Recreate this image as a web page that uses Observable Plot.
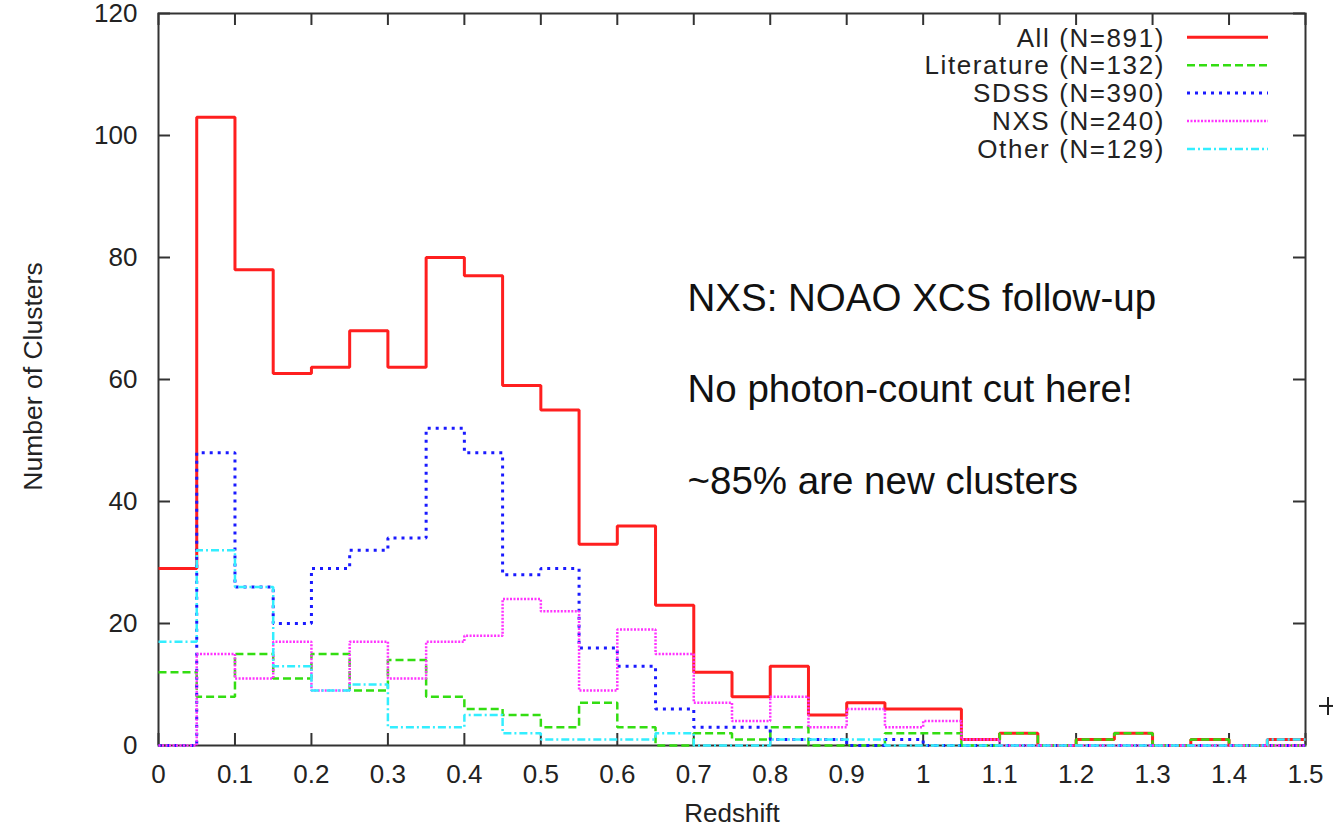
<!DOCTYPE html>
<html><head><meta charset="utf-8">
<script src="https://cdn.jsdelivr.net/npm/d3@7"></script>
<script src="https://cdn.jsdelivr.net/npm/@observablehq/plot@0.6"></script>
<style>html,body{margin:0;padding:0;background:#fff;}</style>
</head><body><div id="chart"></div>
<script>
// ---- data ----
const redshiftBins = [0,0.05,0.1,0.15,0.2,0.25,0.3,0.35,0.4,0.45,0.5,0.55,0.6,0.65,0.7,0.75,0.8,0.85,0.9,0.95,1.0,1.05,1.1,1.15,1.2,1.25,1.3,1.35,1.4,1.45];
const binWidth = 0.05;
const countsAll        = [29,103,78,61,62,68,62,80,77,59,55,33,36,23,12,8,13,5,7,6,6,1,2,0,1,2,0,1,0,1];
const countsLiterature = [12,8,15,11,15,9,14,8,6,5,3,7,3,0,2,1,3,0,0,2,2,0,2,0,1,2,0,1,0,0];
const countsSDSS       = [0,48,26,20,29,32,34,52,48,28,29,16,13,6,3,3,1,1,0,1,0,0,0,0,0,0,0,0,0,0];
const countsNXS        = [0,15,11,17,9,17,11,17,18,24,22,9,19,15,7,4,8,3,6,3,4,1,0,0,0,0,0,0,0,0];
const countsOther      = [17,32,26,13,9,10,3,3,5,2,1,1,1,2,0,0,1,1,1,0,0,0,0,0,0,0,0,0,0,1];
const seriesNames  = ["All","Literature","SDSS","NXS","Other"];
const seriesTotals = [891,132,390,240,129];
const seriesValues = [countsAll,countsLiterature,countsSDSS,countsNXS,countsOther];

const xTicks = [0,0.1,0.2,0.3,0.4,0.5,0.6,0.7,0.8,0.9,1,1.1,1.2,1.3,1.4,1.5];
const xTickLabels = ["0","0.1","0.2","0.3","0.4","0.5","0.6","0.7","0.8","0.9","1","1.1","1.2","1.3","1.4","1.5"];
const yTicks = [0,20,40,60,80,100,120];
const yTickLabels = ["0","20","40","60","80","100","120"];
const xLabel = "Redshift";
const yLabel = "Number of Clusters";
const annotationLines = ["NXS: NOAO XCS follow-up","No photon-count cut here!","~85% are new clusters"];

// ---- styles ----
const seriesStyles = [
  {stroke:"#ff1f1f", strokeWidth:3,   dash:null},
  {stroke:"#33dd11", strokeWidth:2.5, dash:"8,4"},
  {stroke:"#1a1aff", strokeWidth:3,   dash:"3,5"},
  {stroke:"#ff33ff", strokeWidth:2.5, dash:"2,1.5"},
  {stroke:"#33eeff", strokeWidth:2.5, dash:"8,3,2,3"}
];
const FONT = "'Liberation Sans', Arial, Helvetica, sans-serif";
const INK = "#222";
const TICKLEN = 12;

// tidy rows for step lines
function seriesRows(k) {
  const v = seriesValues[k];
  const rows = redshiftBins.map((b, i) => ({x: b, y: v[i]}));
  rows.push({x: redshiftBins[redshiftBins.length - 1] + binWidth, y: v[v.length - 1]});
  return rows;
}

const W = 1337, H = 829;
const mL = 158, mR = 32, mT = 13, mB = 84;
const plotW = W - mL - mR, plotH = H - mT - mB;

const lineMarks = seriesNames.map((name, k) => Plot.line(seriesRows(k), {
  x: "x", y: "y", curve: "step-after",
  stroke: seriesStyles[k].stroke, strokeWidth: seriesStyles[k].strokeWidth,
  strokeDasharray: seriesStyles[k].dash || undefined, strokeLinejoin: "miter", strokeLinecap: "butt"
}));

function legendMark(index, scales, values, dimensions) {
  const right = dimensions.width - dimensions.marginRight;
  const g = d3.create("svg:g").attr("font-family", FONT).attr("font-size", 26).attr("fill", INK);
  seriesNames.forEach((name, k) => {
    const ly = dimensions.marginTop + 24.3 + k * 27.9;
    g.append("text").attr("x", right - 140).attr("y", ly + 9.2)
      .attr("text-anchor", "end").attr("letter-spacing", "1.6px")
      .text(`${name} (N=${seriesTotals[k]})`);
    const s = seriesStyles[k];
    const ln = g.append("line").attr("x1", right - 118).attr("x2", right - 37)
      .attr("y1", ly).attr("y2", ly)
      .attr("stroke", s.stroke).attr("stroke-width", s.strokeWidth);
    if (s.dash) ln.attr("stroke-dasharray", s.dash);
  });
  // small stray "+" marker outside the right border in the reference
  const px = right + 22, py = scales.y(6.4);
  g.append("line").attr("x1", px - 8).attr("x2", px + 6).attr("y1", py).attr("y2", py).attr("stroke", "#222").attr("stroke-width", 2);
  g.append("line").attr("x1", px + 1).attr("x2", px + 1).attr("y1", py - 9).attr("y2", py + 9).attr("stroke", "#222").attr("stroke-width", 2);
  return g.node();
}

const chart = Plot.plot({
  width: W, height: H,
  marginLeft: mL, marginRight: mR, marginTop: mT, marginBottom: mB,
  style: {fontFamily: FONT, fontSize: "26px", color: INK, background: "#fff", overflow: "visible"},
  x: {domain: [0, 1.5], axis: null},
  y: {domain: [0, 120], axis: null},
  marks: [
    // inward ticks on all four sides
    Plot.tickX(xTicks, {x: d => d, insetTop: plotH - TICKLEN, stroke: "#333", strokeWidth: 2}),
    Plot.tickX(xTicks, {x: d => d, insetBottom: plotH - TICKLEN, stroke: "#333", strokeWidth: 2}),
    Plot.tickY(yTicks, {y: d => d, insetRight: plotW - TICKLEN, stroke: "#333", strokeWidth: 2}),
    Plot.tickY(yTicks, {y: d => d, insetLeft: plotW - TICKLEN, stroke: "#333", strokeWidth: 2}),
    Plot.frame({stroke: "#333", strokeWidth: 2}),
    Plot.axisX({ticks: xTicks, tickSize: 0, tickPadding: 19, fontSize: 26, tickFormat: d => xTickLabels[xTicks.indexOf(d)], label: null, fill: INK}),
    Plot.axisY({ticks: yTicks, tickSize: 0, tickPadding: 21, fontSize: 26, tickFormat: d => yTickLabels[yTicks.indexOf(d)], label: null, fill: INK}),
    ...lineMarks,
    Plot.text([xLabel], {frameAnchor: "bottom", dy: 68, lineAnchor: "middle", textAnchor: "middle", text: d => d, fontSize: 26, fill: INK}),
    Plot.text([yLabel], {frameAnchor: "left", dx: -124.5, dy: -3, rotate: -90, lineAnchor: "middle", textAnchor: "middle", text: d => d, fontSize: 26.5, fill: INK}),
    Plot.text([annotationLines.join("\n")], {frameAnchor: "top-left", dx: 529, dy: 232, lineAnchor: "top", textAnchor: "start", lineHeight: 2.38, text: d => d, fontSize: 38.5, fill: "#111"}),
    legendMark
  ]
});
document.getElementById("chart").appendChild(chart);
</script>
</body></html>
